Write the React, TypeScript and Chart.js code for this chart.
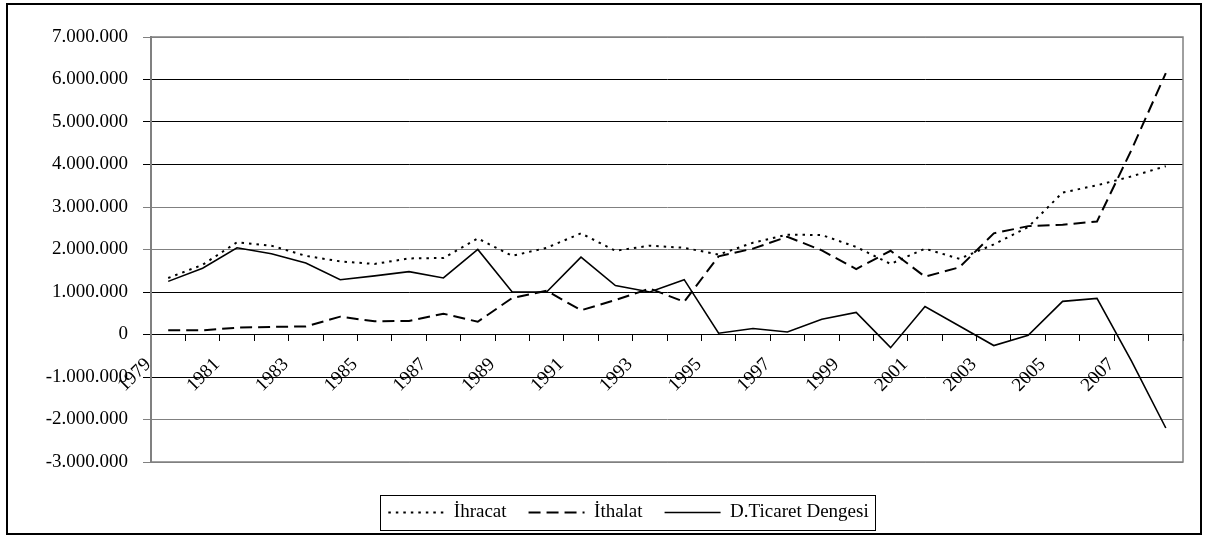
import React, { useEffect, useRef } from 'react';
import { Chart, registerables } from 'chart.js';

Chart.register(...registerables);

const years = ['1979', '1980', '1981', '1982', '1983', '1984', '1985', '1986', '1987', '1988', '1989', '1990', '1991', '1992', '1993', '1994', '1995', '1996', '1997', '1998', '1999', '2000', '2001', '2002', '2003', '2004', '2005', '2006', '2007', '2008'];

const ihracat = [1330000, 1640000, 2170000, 2090000, 1850000, 1720000, 1660000, 1790000, 1800000, 2260000, 1850000, 2040000, 2380000, 1970000, 2090000, 2040000, 1880000, 2160000, 2350000, 2340000, 2060000, 1660000, 2020000, 1780000, 2120000, 2530000, 3340000, 3510000, 3720000, 3960000];

const ithalat = [100000, 100000, 160000, 180000, 190000, 420000, 310000, 320000, 490000, 300000, 860000, 1030000, 570000, 810000, 1080000, 770000, 1840000, 2020000, 2300000, 1980000, 1540000, 1970000, 1360000, 1580000, 2380000, 2550000, 2580000, 2660000, 4340000, 6150000];

const denge = [1250000, 1560000, 2040000, 1900000, 1680000, 1290000, 1380000, 1480000, 1330000, 2000000, 1000000, 1000000, 1820000, 1150000, 1000000, 1290000, 30000, 140000, 60000, 360000, 520000, -310000, 660000, 200000, -260000, -20000, 780000, 850000, -620000, -2200000];

const seriesNames = ['İhracat', 'İthalat', 'D.Ticaret Dengesi'];

const yMin = -3000000;
const yMax = 7000000;
const yStep = 1000000;
const lightGridValues = [7000000, 3000000, 2000000, -2000000, -3000000];

const FONT = "'Liberation Serif', 'Times New Roman', serif";

const fmt = (v: number) => {
  const s = Math.abs(Math.round(v)).toString().replace(/\B(?=(\d{3})+(?!\d))/g, '.');
  return (v < 0 ? '-' : '') + s;
};

const framePlugin = {
  id: 'framePlugin',
  afterLayout(chart: any) {
    const lg = chart.legend;
    if (lg) {
      lg.left = 74;
      lg.top += 19;
      lg.bottom += 19;
    }
  },
  beforeDatasetsDraw(chart: any) {
    const { ctx, chartArea: a } = chart;
    ctx.save();
    ctx.strokeStyle = '#808080';
    ctx.lineWidth = 1.5;
    ctx.strokeRect(a.left, a.top, a.right - a.left, a.bottom - a.top);
    ctx.restore();
  },
  afterDraw(chart: any) {
    const ctx = chart.ctx;
    ctx.save();
    ctx.strokeStyle = '#000';
    ctx.lineWidth = 2;
    ctx.strokeRect(7, 4, 1194, 530);
    const hb = chart.legend && chart.legend.legendHitBoxes;
    if (hb && hb.length) {
      const l = Math.min(...hb.map((h: any) => h.left)) - 8;
      const r = Math.max(...hb.map((h: any) => h.left + h.width)) + 7;
      const t = hb[0].top - 8;
      ctx.lineWidth = 1;
      ctx.strokeRect(Math.round(l) + 0.5, Math.round(t) + 0.5, Math.round(r - l), 35);
    }
    ctx.restore();
  },
};

export default function App() {
  const ref = useRef<HTMLCanvasElement | null>(null);

  useEffect(() => {
    if (!ref.current) return;
    const chart = new Chart(ref.current, {
      type: 'line',
      data: {
        labels: years,
        datasets: [
          {
            label: seriesNames[0],
            data: ihracat,
            borderColor: '#000',
            backgroundColor: '#000',
            borderWidth: 2,
            borderDash: [2.5, 5],
            pointRadius: 0,
            tension: 0,
            fill: false,
          },
          {
            label: seriesNames[1],
            data: ithalat,
            borderColor: '#000',
            backgroundColor: '#000',
            borderWidth: 2,
            borderDash: [12, 6],
            pointRadius: 0,
            tension: 0,
            fill: false,
          },
          {
            label: seriesNames[2],
            data: denge,
            borderColor: '#000',
            backgroundColor: '#000',
            borderWidth: 1.6,
            pointRadius: 0,
            tension: 0,
            fill: false,
          },
        ],
      },
      options: {
        responsive: false,
        animation: false,
        events: [],
        layout: { padding: { left: 0, right: 27, top: 37, bottom: 24 } },
        plugins: {
          tooltip: { enabled: false },
          legend: {
            display: true,
            position: 'bottom',
            labels: {
              usePointStyle: true,
              pointStyle: 'line',
              pointStyleWidth: 56,
              padding: 22,
              color: '#000',
              font: { family: FONT, size: 19 },
              generateLabels: (c: any) => {
                const items = (Chart.defaults.plugins.legend.labels as any).generateLabels(c);
                items.forEach((it: any) => {
                  const ds: any = c.data.datasets[it.datasetIndex];
                  it.lineDash = ds.borderDash || [];
                  it.lineWidth = ds.borderWidth;
                  it.strokeStyle = '#000';
                  it.fillStyle = '#000';
                  it.pointStyle = 'line';
                });
                return items;
              },
            },
          },
        },
        scales: {
          x: {
            type: 'category',
            position: { y: 0 } as any,
            offset: true,
            grid: {
              display: true,
              offset: true,
              drawOnChartArea: false,
              drawTicks: true,
              tickLength: 6,
              color: '#000',
              lineWidth: 1,
            },
            border: { display: true, color: '#000', width: 1 },
            ticks: {
              autoSkip: false,
              minRotation: 45,
              maxRotation: 45,
              labelOffset: -20,
              padding: 13,
              color: '#000',
              font: { family: FONT, size: 19 },
              callback: function (this: any, val: any, idx: number) {
                return idx % 2 === 0 ? this.getLabelForValue(val) : '';
              },
            },
          },
          y: {
            type: 'linear',
            min: yMin,
            max: yMax,
            grid: {
              color: (c: any) => (c.tick && lightGridValues.includes(c.tick.value) ? '#808080' : '#000'),
              lineWidth: 1,
              tickLength: 8,
            },
            border: { display: true, color: '#808080', width: 2 },
            ticks: {
              stepSize: yStep,
              padding: 15,
              color: '#000',
              font: { family: FONT, size: 19 },
              callback: (v: any) => fmt(Number(v)),
            },
            afterFit: (scale: any) => {
              scale.width = 151;
            },
          },
        },
      },
      plugins: [framePlugin],
    });
    return () => chart.destroy();
  }, []);

  return (
    <div style={{ position: 'absolute', left: 0, top: 0, width: 1210, height: 537, background: '#fff' }}>
      <canvas ref={ref} width={1210} height={537} style={{ display: 'block', width: 1210, height: 537 }} />
    </div>
  );
}
